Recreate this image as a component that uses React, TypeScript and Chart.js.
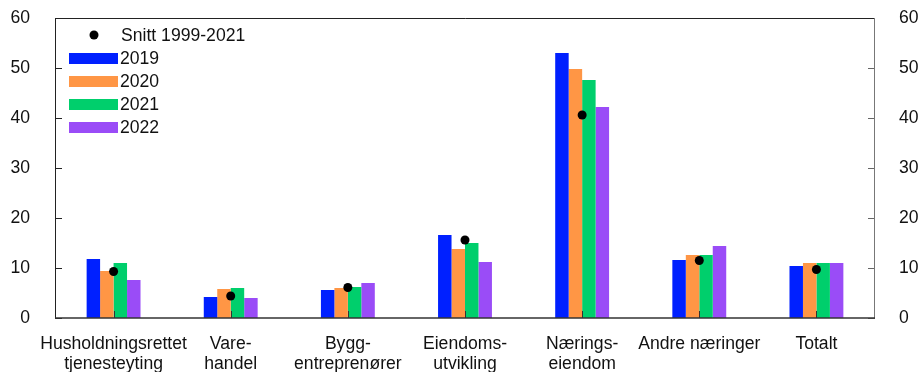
import React, { useEffect, useRef } from "react";
import { Chart, registerables } from "chart.js";

Chart.register(...registerables);

const categories: string[][] = [
  ["Husholdningsrettet", "tjenesteyting"],
  ["Vare-", "handel"],
  ["Bygg-", "entreprenører"],
  ["Eiendoms-", "utvikling"],
  ["Nærings-", "eiendom"],
  ["Andre næringer"],
  ["Totalt"],
];

const values2019 = [11.8, 4.2, 5.6, 16.6, 53.0, 11.6, 10.4];
const values2020 = [9.4, 5.8, 6.0, 13.8, 49.8, 12.6, 11.0];
const values2021 = [11.0, 6.0, 6.2, 15.0, 47.6, 12.6, 11.0];
const values2022 = [7.6, 4.0, 7.0, 11.2, 42.2, 14.4, 11.0];
const average = [9.3, 4.4, 6.1, 15.6, 40.6, 11.5, 9.7];

const seriesLabels = ["2019", "2020", "2021", "2022"];
const avgLabel = "Snitt 1999-2021";
const colors = ["#0020ff", "#ff9645", "#00cf6c", "#9a4cf7"];
const yTicks = [0, 10, 20, 30, 40, 50, 60];

const FONT = "'Liberation Sans', Arial, Helvetica, sans-serif";
const FS = 17.6;

const framePlugin = {
  id: "frame",
  afterDatasetsDraw(chart: any) {
    const { ctx, chartArea, scales } = chart;
    const { left, right, top, bottom } = chartArea;
    ctx.save();
    ctx.lineWidth = 1;
    ctx.strokeStyle = "#222";
    yTicks.forEach((v) => {
      const y = Math.round(scales.y.getPixelForValue(v)) + 0.5;
      ctx.beginPath();
      ctx.moveTo(left, y);
      ctx.lineTo(left + 7, y);
      ctx.stroke();
    });
    ctx.strokeStyle = "#666";
    yTicks.forEach((v) => {
      const y = Math.round(scales.y1.getPixelForValue(v)) + 0.5;
      ctx.beginPath();
      ctx.moveTo(right, y);
      ctx.lineTo(right - 7, y);
      ctx.stroke();
    });
    ctx.strokeStyle = "#333";
    categories.forEach((_, i) => {
      const x = Math.round(scales.x.getPixelForValue(i)) + 0.5;
      ctx.beginPath();
      ctx.moveTo(x, bottom);
      ctx.lineTo(x, bottom - 7);
      ctx.stroke();
    });
    ctx.strokeStyle = "#222";
    ctx.lineWidth = 1;
    ctx.beginPath();
    ctx.moveTo(left + 0.5, bottom);
    ctx.lineTo(left + 0.5, top + 0.5);
    ctx.lineTo(right, top + 0.5);
    ctx.stroke();
    ctx.strokeStyle = "#777";
    ctx.beginPath();
    ctx.moveTo(right - 0.5, top);
    ctx.lineTo(right - 0.5, bottom);
    ctx.stroke();
    ctx.strokeStyle = "#333";
    ctx.lineWidth = 1.5;
    ctx.beginPath();
    ctx.moveTo(left, bottom);
    ctx.lineTo(right, bottom);
    ctx.stroke();

    // legend
    ctx.font = `${FS}px ${FONT}`;
    ctx.textBaseline = "middle";
    ctx.textAlign = "left";
    ctx.fillStyle = "#000";
    ctx.beginPath();
    ctx.arc(94, 35, 4.5, 0, Math.PI * 2);
    ctx.fill();
    ctx.fillStyle = "#111";
    ctx.fillText(avgLabel, 121, 36);
    seriesLabels.forEach((lab, i) => {
      const cy = 58.5 + i * 23;
      ctx.fillStyle = colors[i];
      ctx.fillRect(69, cy - 5.5, 49, 11);
      ctx.fillStyle = "#111";
      ctx.fillText(lab, 120, cy + 1);
    });
    ctx.restore();
  },
};

export default function App() {
  const ref = useRef<HTMLCanvasElement | null>(null);
  useEffect(() => {
    if (!ref.current) return;
    const allSeries = [values2019, values2020, values2021, values2022];
    const noPad = (s: any) => {
      s.paddingTop = 0;
      s.paddingBottom = 0;
      s.paddingLeft = 0;
      s.paddingRight = 0;
    };
    const chart = new Chart(ref.current, {
      type: "bar",
      data: {
        labels: categories,
        datasets: [
          {
            type: "line",
            label: avgLabel,
            data: average,
            showLine: false,
            pointRadius: 4.5,
            pointHoverRadius: 4.5,
            pointBackgroundColor: "#000",
            pointBorderColor: "#000",
            pointBorderWidth: 0,
            order: 0,
          } as any,
          ...allSeries.map((d, i) => ({
            type: "bar" as const,
            label: seriesLabels[i],
            data: d,
            backgroundColor: colors[i],
            borderWidth: 0,
            categoryPercentage: 0.46,
            barPercentage: 1,
            order: 1,
          })),
        ],
      },
      options: {
        animation: false,
        responsive: false,
        maintainAspectRatio: false,
        layout: { padding: { top: 18, left: 0, right: 0, bottom: 0 } },
        plugins: { legend: { display: false }, tooltip: { enabled: false } },
        scales: {
          x: {
            grid: { display: false, drawTicks: false },
            border: { display: false },
            ticks: {
              color: "#111",
              font: { family: FONT, size: FS, lineHeight: 1.15 },
              padding: 16,
              maxRotation: 0,
              autoSkip: false,
            },
            afterFit: (s: any) => {
              s.height = 54;
              noPad(s);
            },
          },
          y: {
            position: "left",
            min: 0,
            max: 60,
            grid: { display: false, drawTicks: false },
            border: { display: false },
            ticks: {
              stepSize: 10,
              color: "#111",
              font: { family: FONT, size: FS },
              padding: 25,
            },
            afterFit: (s: any) => {
              s.width = 55;
              noPad(s);
            },
          },
          y1: {
            position: "right",
            min: 0,
            max: 60,
            grid: { display: false, drawTicks: false },
            border: { display: false },
            ticks: {
              stepSize: 10,
              color: "#111",
              font: { family: FONT, size: FS },
              padding: 24,
            },
            afterFit: (s: any) => {
              s.width = 43;
              noPad(s);
            },
          },
        },
      },
      plugins: [framePlugin],
    });
    return () => chart.destroy();
  }, []);
  return (
    <div style={{ position: "fixed", left: 0, top: 0, width: 918, height: 372, background: "#fff" }}>
      <canvas ref={ref} width={918} height={372} style={{ width: 918, height: 372 }} />
    </div>
  );
}
